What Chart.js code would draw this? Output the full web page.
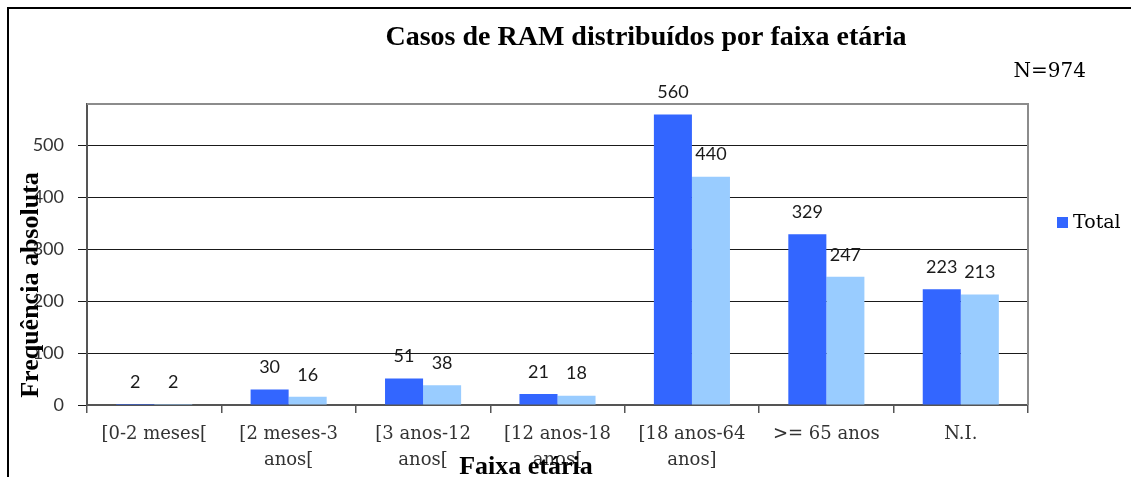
<!DOCTYPE html>
<html>
<head>
<meta charset="utf-8">
<title>Casos de RAM distribuídos por faixa etária</title>
<script src="https://cdn.jsdelivr.net/npm/chart.js@4.4.1/dist/chart.umd.min.js"></script>
<style>
  html, body { margin: 0; padding: 0; background: #fff; overflow: hidden; }
  #wrap { position: relative; width: 1131px; height: 477px; }
  #moldura { position: absolute; left: 7px; top: 7px; width: 2000px; height: 2000px; border: 2px solid #000; }
  #grafico { position: absolute; left: 0; top: 0; }
</style>
</head>
<body>
<div id="wrap">
  <div id="moldura"></div>
  <canvas id="grafico" width="1131" height="477"></canvas>
</div>
<script>
// dados
const faixas = [
  ['[0-2 meses['],
  ['[2 meses-3', 'anos['],
  ['[3 anos-12', 'anos['],
  ['[12 anos-18', 'anos['],
  ['[18 anos-64', 'anos]'],
  ['>= 65 anos'],
  ['N.I.']
];
const total = [2, 30, 51, 21, 560, 329, 223];
const serie2 = [2, 16, 38, 18, 440, 247, 213];
const yTicks = [0, 100, 200, 300, 400, 500];
const yMax = 580;

const tituloTexto = 'Casos de RAM distribuídos por faixa etária';
const nTexto = 'N=974';
const yTitulo = 'Frequência absoluta';
const xTitulo = 'Faixa etária';
const legendaTexto = 'Total';

const azul = '#3366FF';
const azulClaro = '#99CCFF';

// textos, legenda e rótulos dos valores
const textos = {
  id: 'textos',
  afterDatasetsDraw(chart) {
    const ctx = chart.ctx;
    const area = chart.chartArea;
    ctx.save();

    // contorno cinza da área do gráfico (topo e direita)
    ctx.strokeStyle = '#8c8c8c';
    ctx.lineWidth = 2;
    ctx.beginPath();
    ctx.moveTo(area.left, area.top);
    ctx.lineTo(area.right, area.top);
    ctx.lineTo(area.right, area.bottom);
    ctx.stroke();

    // rótulos dos valores
    ctx.font = '18px Lato';
    ctx.fillStyle = '#1a1a1a';
    ctx.textAlign = 'center';
    ctx.textBaseline = 'middle';
    chart.data.datasets.forEach((ds, i) => {
      chart.getDatasetMeta(i).data.forEach((bar, j) => {
        ctx.fillText(ds.data[j], bar.x, bar.y - 22);
      });
    });

    // título
    ctx.fillStyle = '#000';
    ctx.font = 'bold 28px "Liberation Serif"';
    ctx.fillText(tituloTexto, 646, 38);

    // N
    ctx.font = '20px "DejaVu Serif"';
    ctx.textAlign = 'right';
    ctx.fillText(nTexto, 1086, 72);

    // legenda
    ctx.fillStyle = azul;
    ctx.fillRect(1057, 217, 11, 11);
    ctx.fillStyle = '#000';
    ctx.textAlign = 'left';
    ctx.font = '19px "DejaVu Serif"';
    ctx.fillText(legendaTexto, 1073, 223);

    // títulos dos eixos
    ctx.font = 'bold 26px "Liberation Serif"';
    ctx.textAlign = 'center';
    ctx.fillText(xTitulo, 526, 467);
    ctx.translate(31, 285);
    ctx.rotate(-Math.PI / 2);
    ctx.fillText(yTitulo, 0, 0);

    ctx.restore();
  }
};

new Chart(document.getElementById('grafico'), {
  type: 'bar',
  data: {
    labels: faixas,
    datasets: [
      { label: legendaTexto, data: total, backgroundColor: azul },
      { label: '', data: serie2, backgroundColor: azulClaro }
    ]
  },
  options: {
    responsive: false,
    animation: false,
    layout: { padding: { left: 10, top: 104, right: 103, bottom: 0 } },
    datasets: { bar: { categoryPercentage: 0.566, barPercentage: 1 } },
    plugins: {
      legend: { display: false },
      title: { display: false },
      tooltip: { enabled: false }
    },
    scales: {
      x: {
        afterFit(scale) { scale.height = 72; },
        border: { color: '#555', width: 2 },
        grid: { drawOnChartArea: false, color: '#555', tickLength: 8, lineWidth: 1.5 },
        ticks: {
          color: '#333',
          font: { family: 'DejaVu Serif', size: 18, lineHeight: 1.42 },
          maxRotation: 0, autoSkip: false, padding: 9
        }
      },
      y: {
        min: 0,
        max: yMax,
        afterFit(scale) { scale.width = 77; },
        afterBuildTicks(scale) {
          scale.ticks = yTicks.map(v => ({ value: v }));
        },
        border: { color: '#555', width: 2 },
        grid: { color: '#1a1a1a', lineWidth: 1, tickLength: 9 },
        ticks: {
          color: '#333',
          font: { family: 'Lato', size: 18 },
          padding: 14
        }
      }
    }
  },
  plugins: [textos]
});
</script>
</body>
</html>
